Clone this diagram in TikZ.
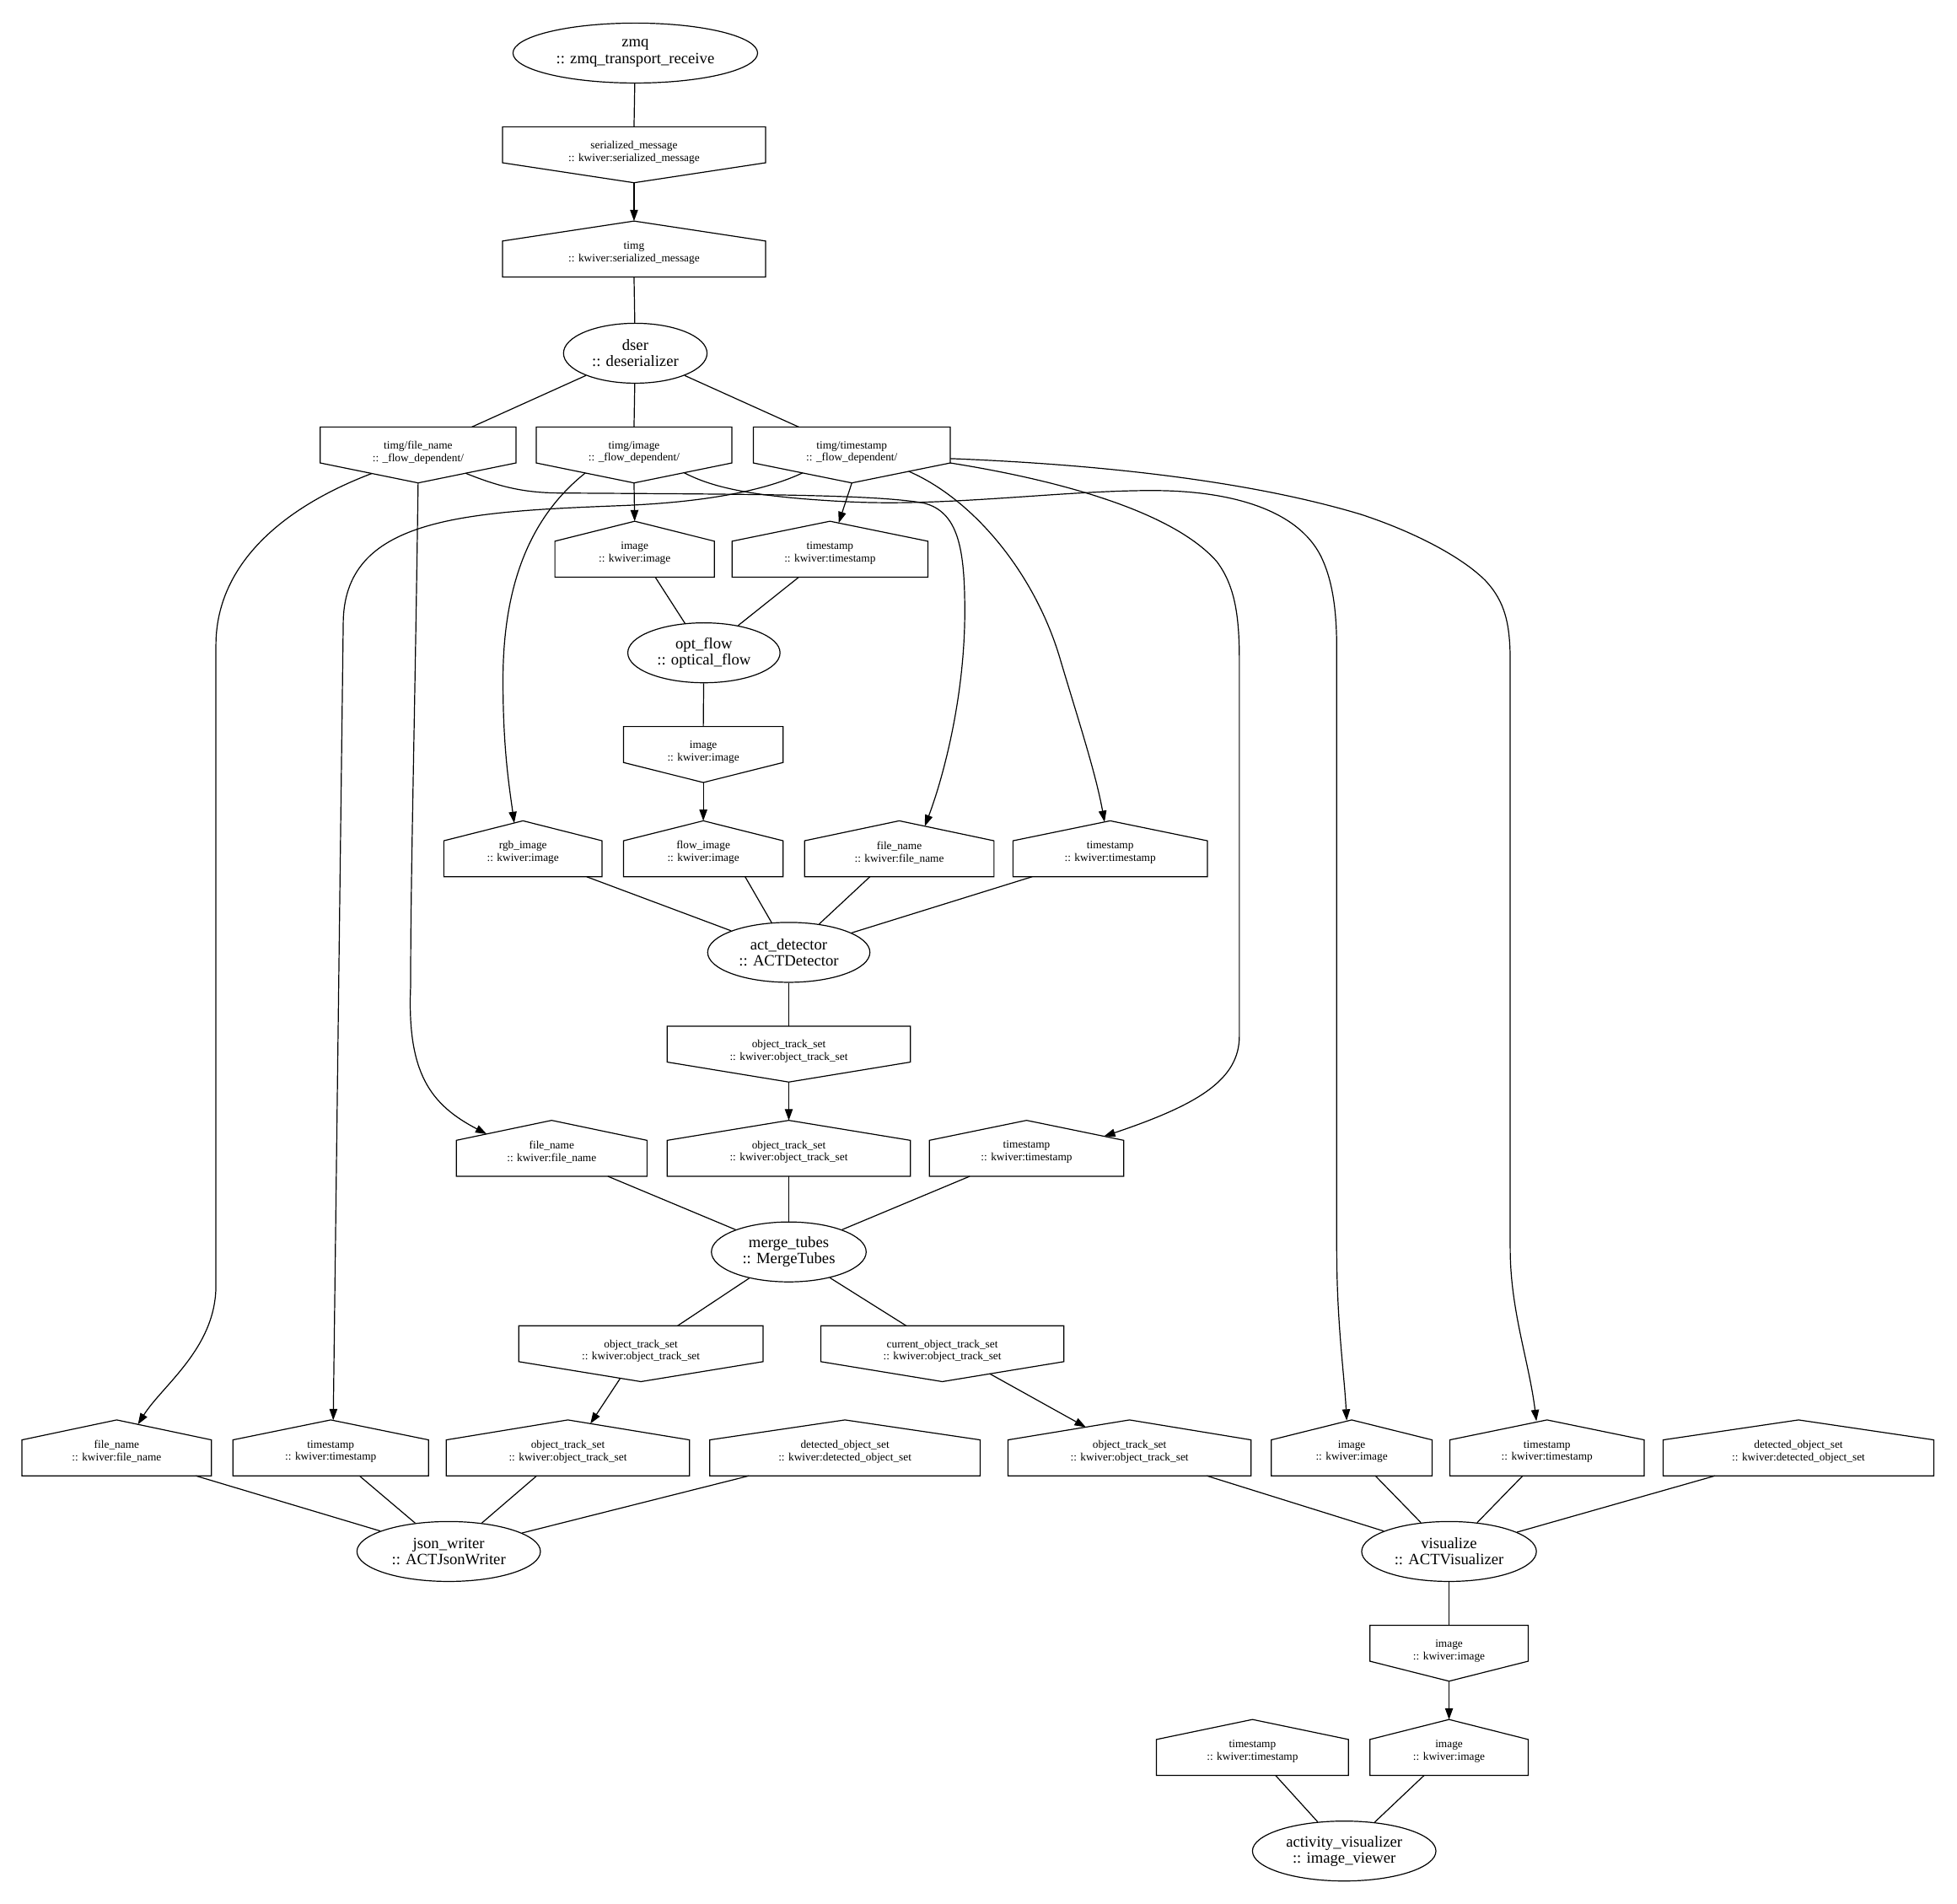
\documentclass[tikz,border=0pt]{standalone}
\usepackage{fontspec}
\setmainfont{Liberation Serif}
\usetikzlibrary{calc,shapes.geometric,arrows.meta}
\begin{document}
\begin{tikzpicture}[x=1.11pt,y=-1.11pt,line width=0.9pt,
  pell/.style={ellipse, draw, inner sep=0pt, minimum width=#1*1.11pt, minimum height=48*1.11pt, align=center, font=\fontsize{14}{14.4}\selectfont},
  pbox/.style={rectangle, inner sep=0pt, minimum width=#1*1.11pt, minimum height=44*1.11pt},
  ptxt/.style={inner sep=0pt, align=center, font=\fontsize{10}{11.1}\selectfont},
  hin/.style n args={2}{pbox=#1, label={[ptxt, yshift=-3*1.11pt]center:{#2}}},
  hout/.style n args={2}{pbox=#1, label={[ptxt, yshift=2*1.11pt]center:{#2}}},
  flow/.style={-{Triangle[length=10pt,width=7pt]}},
  wire/.style={}
]
\fill[white] (0,0) rectangle (1568,1525);
\useasboundingbox (0,0) rectangle (1568,1525);

% process nodes
\node[pell=196] (zmq) at (509,42.5) {zmq\\:: zmq\_transport\_receive};
\node[pell=115] (dser) at (509,283) {dser\\:: deserializer};
\node[pell=122] (optflow) at (564,523) {opt\_flow\\:: optical\_flow};
\node[pell=130] (act) at (632,763) {act\_detector\\:: ACTDetector};
\node[pell=124] (merge) at (632,1003) {merge\_tubes\\:: MergeTubes};
\node[pell=147] (json) at (359.5,1243) {json\_writer\\:: ACTJsonWriter};
\node[pell=140] (viz) at (1161,1243) {visualize\\:: ACTVisualizer};
\node[pell=147] (av) at (1077,1483) {activity\_visualizer\\:: image\_viewer};

% port nodes
\node[hout={210}{serialized\_message\\:: kwiver:serialized\_message}] (sermsg) at (508,124) {};
\node[hin={210}{timg\\:: kwiver:serialized\_message}] (timg) at (508,199.5) {};
\node[hout={156}{timg/file\_name\\:: \_flow\_dependent/}] (tfn) at (335,364.5) {};
\node[hout={156}{timg/image\\:: \_flow\_dependent/}] (tim) at (508,364.5) {};
\node[hout={157}{timg/timestamp\\:: \_flow\_dependent/}] (tts) at (682.5,364.5) {};
\node[hin={127}{image\\:: kwiver:image}] (ofimg) at (508.5,440) {};
\node[hin={156}{timestamp\\:: kwiver:timestamp}] (ofts) at (665,440) {};
\node[hout={127}{image\\:: kwiver:image}] (ofout) at (563.5,604.5) {};
\node[hin={126}{rgb\_image\\:: kwiver:image}] (adrgb) at (419,680) {};
\node[hin={127}{flow\_image\\:: kwiver:image}] (adflow) at (563.5,680) {};
\node[hin={151}{file\_name\\:: kwiver:file\_name}] (adfn) at (720.5,680) {};
\node[hin={155}{timestamp\\:: kwiver:timestamp}] (adts) at (889.5,680) {};
\node[hout={194}{object\_track\_set\\:: kwiver:object\_track\_set}] (adout) at (632,844.5) {};
\node[hin={152}{file\_name\\:: kwiver:file\_name}] (mtfn) at (442,920) {};
\node[hin={194}{object\_track\_set\\:: kwiver:object\_track\_set}] (mtots) at (632,920) {};
\node[hin={155}{timestamp\\:: kwiver:timestamp}] (mtts) at (822.5,920) {};
\node[hout={195}{object\_track\_set\\:: kwiver:object\_track\_set}] (mtout1) at (513.5,1084.5) {};
\node[hout={194}{current\_object\_track\_set\\:: kwiver:object\_track\_set}] (mtout2) at (755,1084.5) {};
\node[hin={151}{file\_name\\:: kwiver:file\_name}] (jwfn) at (93.5,1160) {};
\node[hin={156}{timestamp\\:: kwiver:timestamp}] (jwts) at (265,1160) {};
\node[hin={194}{object\_track\_set\\:: kwiver:object\_track\_set}] (jwots) at (455,1160) {};
\node[hin={216}{detected\_object\_set\\:: kwiver:detected\_object\_set}] (jwdos) at (677,1160) {};
\node[hin={194}{object\_track\_set\\:: kwiver:object\_track\_set}] (vzots) at (905,1160) {};
\node[hin={128}{image\\:: kwiver:image}] (vzimg) at (1083,1160) {};
\node[hin={155}{timestamp\\:: kwiver:timestamp}] (vzts) at (1239.5,1160) {};
\node[hin={216}{detected\_object\_set\\:: kwiver:detected\_object\_set}] (vzdos) at (1441,1160) {};
\node[hout={126}{image\\:: kwiver:image}] (vzout) at (1161,1324.5) {};
\node[hin={153}{timestamp\\:: kwiver:timestamp}] (avts) at (1003.5,1400) {};
\node[hin={126}{image\\:: kwiver:image}] (avimg) at (1161,1400) {};

% outlines: input ports (house) and output ports (inverted house)
\foreach \n in {timg,ofimg,ofts,adrgb,adflow,adfn,adts,mtfn,mtots,mtts,jwfn,jwts,jwots,jwdos,vzots,vzimg,vzts,vzdos,avts,avimg}
  \draw (\n.south west) -- ($(\n.north west)+(0,16)$) -- (\n.north) -- ($(\n.north east)+(0,16)$) -- (\n.south east) -- cycle;
\foreach \n in {sermsg,tfn,tim,tts,ofout,adout,mtout1,mtout2,vzout}
  \draw (\n.north west) -- (\n.north east) -- ($(\n.south east)+(0,-16)$) -- (\n.south) -- ($(\n.south west)+(0,-16)$) -- cycle;

% top chain
\draw[wire] (zmq) -- (sermsg.north);
\draw[flow] (sermsg.south) -- (timg.north);
\draw[wire] (timg.south) -- (dser);
\draw[wire] (dser) -- ($(tfn.north)+(43,0)$);
\draw[wire] (dser) -- (tim.north);
\draw[wire] (dser) -- ($(tts.north)+(-42.5,0)$);

% timg/file_name
\draw[flow] ($(tfn.south)+(-37,-7.6)$) .. controls (230,405) and (173,450) .. (173,517) -- (173,1030) .. controls (173,1080) and (130,1110) .. ($(jwfn.north)+(17,3.6)$);
\draw[flow] (tfn.south) .. controls (332,600) and (329,700) .. (329,790) .. controls (326,860) and (345,885) .. ($(mtfn.north)+(-52,11)$);
\draw[flow] ($(tfn.south)+(38,-7.8)$) .. controls (400,390) and (420,395) .. (450,395) .. controls (600,396) and (700,396) .. (740,403) .. controls (768,410) and (773,440) .. (773,490) .. controls (773,560) and (755,625) .. ($(adfn.north)+(20.5,4.3)$);

% timg/image
\draw[flow] ($(tim.south)+(-39,-8)$) .. controls (430,410) and (403,460) .. (403,545) .. controls (403,600) and (408,630) .. ($(adrgb.north)+(-7,1.8)$);
\draw[flow] (tim.south) -- (ofimg.north);
\draw[flow] ($(tim.south)+(40,-8.2)$) .. controls (570,390) and (600,398) .. (680,402) .. controls (760,406) and (850,393) .. (923,393) .. controls (990,393) and (1040,410) .. (1058,445) .. controls (1068,465) and (1071,490) .. (1071,520) -- (1071,1000) .. controls (1071,1060) and (1077,1100) .. ($(vzimg.north)+(-4,0.5)$);

% timg/timestamp
\draw[flow] ($(tts.south)+(-39.5,-8)$) .. controls (615,392) and (570,402) .. (500,405) .. controls (370,410) and (275,415) .. (275,500) -- ($(jwts.north)+(2,0.2)$);
\draw[flow] (tts.south) -- ($(ofts.north)+(7,1.4)$);
\draw[flow] ($(tts.south)+(45.5,-9.3)$) .. controls (780,400) and (830,460) .. (850,530) .. controls (865,580) and (878,620) .. ($(adts.north)+(-4.5,0.9)$);
\draw[flow] ($(tts.south east)+(0,-16)$) .. controls (850,385) and (940,410) .. (975,450) .. controls (990,470) and (993,495) .. (993,530) -- (993,830) .. controls (993,865) and (960,885) .. ($(mtts.north)+(62,12.8)$);
\draw[flow] ($(tts.south east)+(0,-19.5)$) .. controls (880,372) and (1000,385) .. (1090,412) .. controls (1130,425) and (1170,445) .. (1190,465) .. controls (1206,482) and (1210,500) .. (1210,530) -- (1210,1000) .. controls (1210,1050) and (1225,1090) .. ($(vzts.north)+(-8.5,0.9)$);

% optical flow
\draw[wire] ($(ofimg.south)+(16.5,0)$) -- (optflow);
\draw[wire] ($(ofts.south)+(-25,0)$) -- (optflow);
\draw[wire] (optflow) -- (ofout.north);
\draw[flow] (ofout.south) -- (adflow.north);

% act detector
\draw[wire] ($(adrgb.south)+(51,0)$) -- (act);
\draw[wire] ($(adflow.south)+(33.5,0)$) -- (act);
\draw[wire] ($(adfn.south)+(-23.5,0)$) -- (act);
\draw[wire] ($(adts.south)+(-62.5,0)$) -- (act);
\draw[wire] (act) -- (adout.north);
\draw[flow] (adout.south) -- (mtots.north);

% merge tubes
\draw[wire] ($(mtfn.south)+(45,0)$) -- (merge);
\draw[wire] (mtots.south) -- (merge);
\draw[wire] ($(mtts.south)+(-45.5,0)$) -- (merge);
\draw[wire] (merge) -- ($(mtout1.north)+(29.5,0)$);
\draw[wire] (merge) -- ($(mtout2.north)+(-29,0)$);
\draw[flow] ($(mtout1.south)+(-16.5,-2.7)$) -- ($(jwots.north)+(18,3)$);
\draw[flow] ($(mtout2.south)+(38,-6.3)$) -- ($(vzots.north)+(-35,5.8)$);

% json writer
\draw[wire] ($(jwfn.south)+(63.5,0)$) -- (json);
\draw[wire] ($(jwts.south)+(23,0)$) -- (json);
\draw[wire] ($(jwots.south)+(-25,0)$) -- (json);
\draw[wire] ($(jwdos.south)+(-77,0)$) -- (json);

% visualizer
\draw[wire] ($(vzots.south)+(62,0)$) -- (viz);
\draw[wire] ($(vzimg.south)+(19,0)$) -- (viz);
\draw[wire] ($(vzts.south)+(-19.5,0)$) -- (viz);
\draw[wire] ($(vzdos.south)+(-67,0)$) -- (viz);
\draw[wire] (viz) -- (vzout.north);
\draw[flow] (vzout.south) -- (avimg.north);

% activity visualizer
\draw[wire] ($(avts.south)+(18.5,0)$) -- (av);
\draw[wire] ($(avimg.south)+(-20,0)$) -- (av);
\end{tikzpicture}
\end{document}
